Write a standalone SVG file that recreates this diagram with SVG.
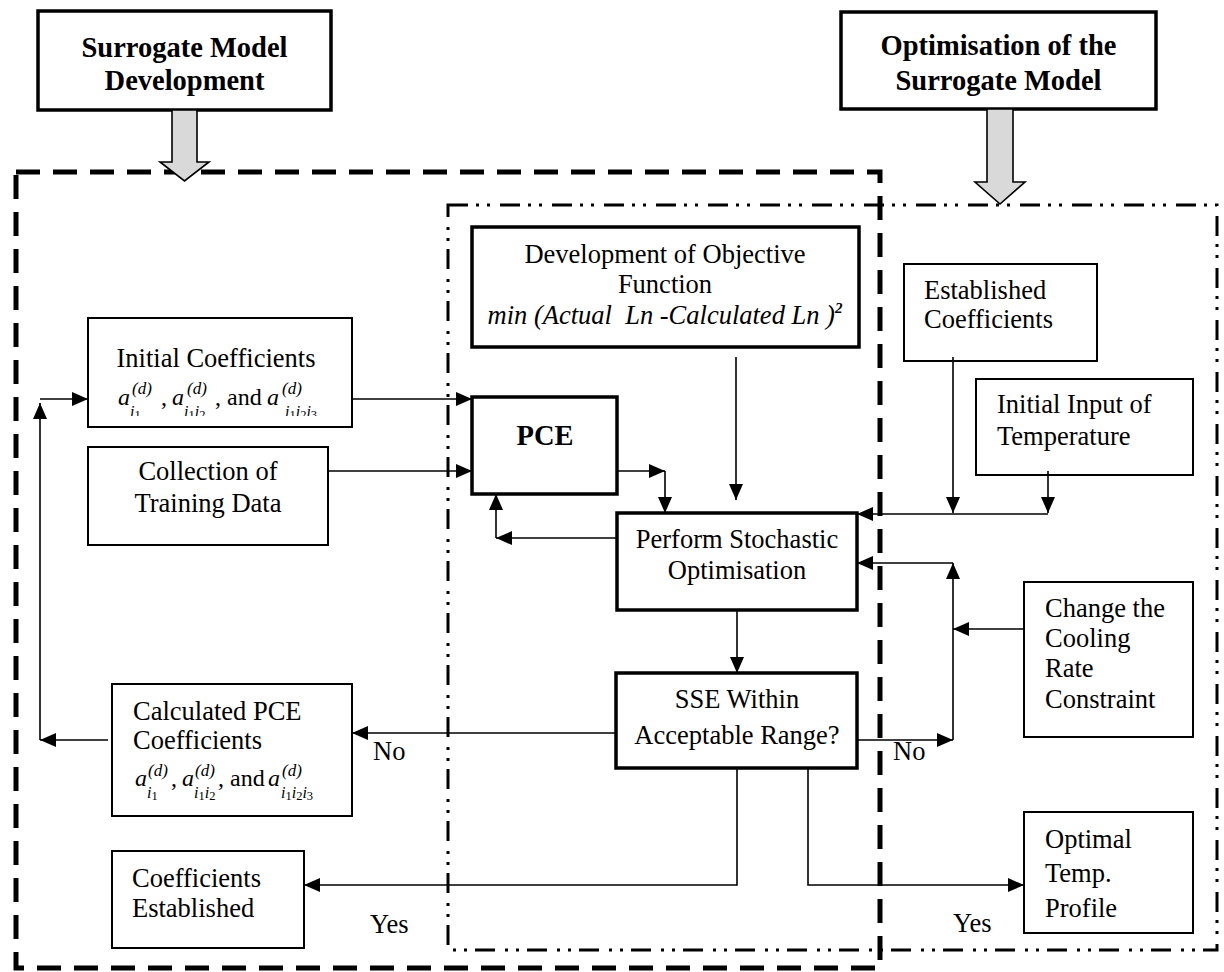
<svg xmlns="http://www.w3.org/2000/svg" width="1224" height="972" viewBox="0 0 1224 972">
<style>
.box{fill:#fff;stroke:#000;stroke-width:2}
.thick{stroke-width:3.5}
.t{font-family:"Liberation Serif","Times New Roman",serif;font-size:26.5px;fill:#000}
.b{font-weight:bold;font-size:28.5px}
.c{text-anchor:middle}
.mi{font-style:italic;font-size:24px}
.mr{font-size:24px}
.sup{font-style:italic;font-size:17px}
.si{font-style:italic;font-size:16px}
.sn{font-size:12.5px}
.conn{fill:none;stroke:#000;stroke-width:1.6}
.ga{fill:#d9d9d9;stroke:#000;stroke-width:1.6}
</style>
<defs>
<marker id="ah" markerUnits="userSpaceOnUse" markerWidth="16" markerHeight="14" refX="16" refY="7" orient="auto">
<path d="M0,0 L16,7 L0,14 z" fill="#000"/>
</marker>
<clipPath id="clipInit"><rect x="100" y="370" width="250" height="46"/></clipPath>
</defs>
<rect width="1224" height="972" fill="#fff"/>

<g id="regions">
<rect x="16" y="172" width="864" height="796" fill="none" stroke="#000" stroke-width="5" stroke-dasharray="24 13"/>
<rect x="448" y="205" width="769" height="745" fill="none" stroke="#000" stroke-width="3" stroke-dasharray="20 8 3 8 3 10"/>
</g>

<g id="header-surrogate">
<rect class="box thick" x="38" y="11" width="293" height="99"/>
<text class="t b c" x="184.5" y="57">Surrogate Model</text>
<text class="t b c" x="184.5" y="90">Development</text>
<polygon class="ga" points="172,110 197,110 197,162 209,162 184.5,181 160,162 172,162"/>
</g>

<g id="header-optimisation">
<rect class="box thick" x="841" y="12" width="315" height="97"/>
<text class="t b c" x="998.5" y="55">Optimisation of the</text>
<text class="t b c" x="998.5" y="90">Surrogate Model</text>
<polygon class="ga" points="987,109 1013,109 1013,182 1025,182 1000,204 975,182 987,182"/>
</g>

<g id="initial-coefficients">
<rect class="box" x="88" y="318" width="264" height="109"/>
<text class="t c" x="216" y="367">Initial Coefficients</text>
<text class="t" clip-path="url(#clipInit)"><tspan class="mi" x="118" y="405">a</tspan><tspan class="sup" x="132" y="394">(d)</tspan><tspan class="si" x="130" y="417">i</tspan><tspan class="sn" y="419">1</tspan><tspan class="mr" x="161" y="405">,</tspan><tspan class="mi" x="172" y="405">a</tspan><tspan class="sup" x="187" y="394">(d)</tspan><tspan class="si" x="184" y="417">i</tspan><tspan class="sn" y="419">1</tspan><tspan class="si" y="417">i</tspan><tspan class="sn" y="419">2</tspan><tspan class="mr" x="215" y="405">, and</tspan><tspan class="mi" x="267" y="405">a</tspan><tspan class="sup" x="282" y="394">(d)</tspan><tspan class="si" x="285" y="417">i</tspan><tspan class="sn" y="419">1</tspan><tspan class="si" y="417">i</tspan><tspan class="sn" y="419">2</tspan><tspan class="si" y="417">i</tspan><tspan class="sn" y="419">3</tspan></text>
</g>

<g id="collection">
<rect class="box" x="88" y="447" width="240" height="98"/>
<text class="t c" x="208" y="480">Collection of</text>
<text class="t c" x="208" y="512">Training Data</text>
</g>

<g id="objective">
<rect class="box thick" x="472" y="227" width="387" height="120"/>
<text class="t c" x="665" y="263">Development of Objective</text>
<text class="t c" x="665" y="293">Function</text>
<text class="t c" x="665" y="324" font-style="italic" font-size="25.5" xml:space="preserve">min (Actual  Ln -Calculated Ln )<tspan font-size="15" font-weight="bold" dy="-11">2</tspan></text>
</g>

<g id="pce">
<rect class="box thick" x="472" y="397" width="145" height="97"/>
<text class="t b c" x="545" y="445">PCE</text>
</g>

<g id="perform">
<rect class="box thick" x="617" y="513" width="240" height="97"/>
<text class="t c" x="737" y="548">Perform Stochastic</text>
<text class="t c" x="737" y="579">Optimisation</text>
</g>

<g id="sse">
<rect class="box thick" x="616" y="673" width="241" height="95"/>
<text class="t c" x="737" y="708">SSE Within</text>
<text class="t c" x="737" y="744">Acceptable Range?</text>
</g>

<g id="calculated">
<rect class="box" x="112" y="684" width="240" height="132"/>
<text class="t" x="133" y="720">Calculated PCE</text>
<text class="t" x="133" y="749">Coefficients</text>
<text class="t"><tspan class="mi" x="135" y="786">a</tspan><tspan class="sup" x="148" y="776">(d)</tspan><tspan class="si" x="147" y="798">i</tspan><tspan class="sn" y="800">1</tspan><tspan class="mr" x="171" y="786">,</tspan><tspan class="mi" x="182" y="786">a</tspan><tspan class="sup" x="195" y="776">(d)</tspan><tspan class="si" x="194" y="798">i</tspan><tspan class="sn" y="800">1</tspan><tspan class="si" y="798">i</tspan><tspan class="sn" y="800">2</tspan><tspan class="mr" x="218" y="786">, and</tspan><tspan class="mi" x="268" y="786">a</tspan><tspan class="sup" x="282" y="776">(d)</tspan><tspan class="si" x="281" y="798">i</tspan><tspan class="sn" y="800">1</tspan><tspan class="si" y="798">i</tspan><tspan class="sn" y="800">2</tspan><tspan class="si" y="798">i</tspan><tspan class="sn" y="800">3</tspan></text>
</g>

<g id="coefficients-established">
<rect class="box" x="112" y="851" width="192" height="97"/>
<text class="t" x="132" y="887">Coefficients</text>
<text class="t" x="132" y="917">Established</text>
</g>

<g id="established-coefficients">
<rect class="box" x="904" y="264" width="193" height="97"/>
<text class="t" x="924" y="299">Established</text>
<text class="t" x="924" y="328">Coefficients</text>
</g>

<g id="initial-input">
<rect class="box" x="976" y="379" width="217" height="96"/>
<text class="t" x="997" y="413">Initial Input of</text>
<text class="t" x="997" y="445">Temperature</text>
</g>

<g id="change-cooling">
<rect class="box" x="1024" y="582" width="169" height="155"/>
<text class="t" x="1045" y="617">Change the</text>
<text class="t" x="1045" y="647">Cooling</text>
<text class="t" x="1045" y="677">Rate</text>
<text class="t" x="1045" y="708">Constraint</text>
</g>

<g id="optimal">
<rect class="box" x="1024" y="812" width="169" height="121"/>
<text class="t" x="1045" y="848">Optimal</text>
<text class="t" x="1045" y="882">Temp.</text>
<text class="t" x="1045" y="917">Profile</text>
</g>

<g id="connectors">
<path class="conn" d="M352,399 H472" marker-end="url(#ah)"/>
<path class="conn" d="M328,471 H472" marker-end="url(#ah)"/>
<path class="conn" d="M617,471 H665" marker-end="url(#ah)"/>
<path class="conn" d="M665,471 V513" marker-end="url(#ah)"/>
<path class="conn" d="M617,538 H496" marker-end="url(#ah)"/>
<path class="conn" d="M496,538 V494" marker-end="url(#ah)"/>
<path class="conn" d="M736,357 V500" marker-end="url(#ah)"/>
<path class="conn" d="M737,610 V673" marker-end="url(#ah)"/>
<path class="conn" d="M953,357 V513" marker-end="url(#ah)"/>
<path class="conn" d="M1048,471 V513" marker-end="url(#ah)"/>
<path class="conn" d="M1048,514 H857" marker-end="url(#ah)"/>
<path class="conn" d="M1024,629 H953" marker-end="url(#ah)"/>
<path class="conn" d="M857,740 H953" marker-end="url(#ah)"/>
<path class="conn" d="M953,740 V563" marker-end="url(#ah)"/>
<path class="conn" d="M953,563 H857" marker-end="url(#ah)"/>
<path class="conn" d="M616,733 H352" marker-end="url(#ah)"/>
<path class="conn" d="M108,740 H40" marker-end="url(#ah)"/>
<path class="conn" d="M40,740 V403" marker-end="url(#ah)"/>
<path class="conn" d="M40,399 H88" marker-end="url(#ah)"/>
<path class="conn" d="M737,768 V885 H304" marker-end="url(#ah)"/>
<path class="conn" d="M808,768 V885 H1024" marker-end="url(#ah)"/>
<text class="t" x="373" y="760">No</text>
<text class="t" x="893" y="760">No</text>
<text class="t" x="370" y="933">Yes</text>
<text class="t" x="953" y="932">Yes</text>
</g>
</svg>
